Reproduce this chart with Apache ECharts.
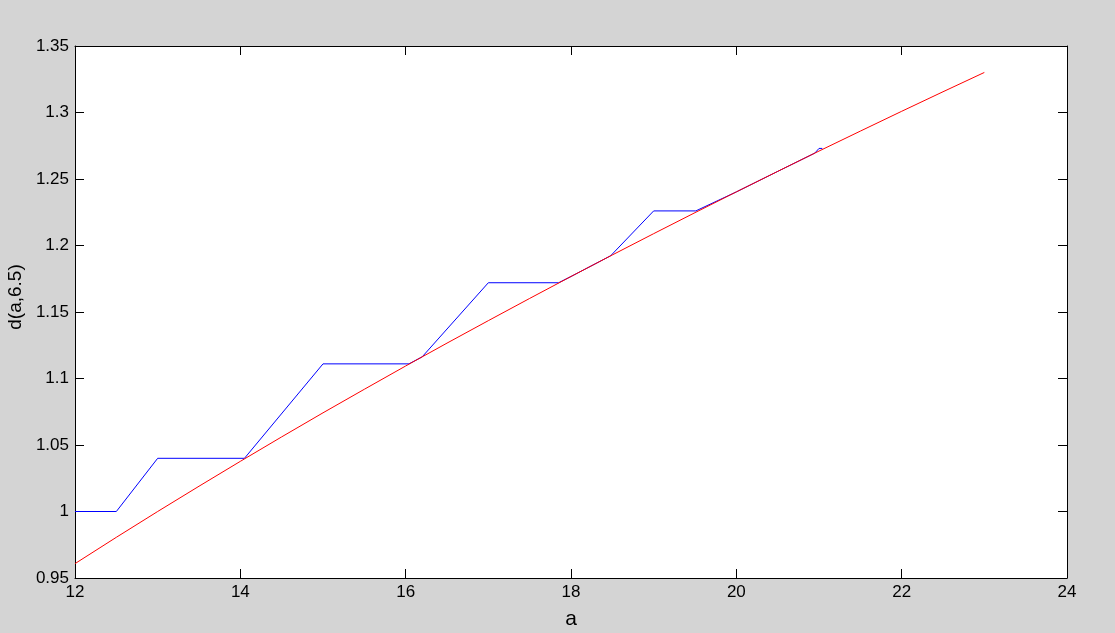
<!DOCTYPE html>
<html>
<head>
<meta charset="utf-8">
<script src="https://cdn.jsdelivr.net/npm/echarts@6/dist/echarts.min.js"></script>
<style>
html,body{margin:0;padding:0;background:#d4d4d4;}
#chart{width:1115px;height:633px;}
</style>
</head>
<body>
<div id="chart"></div>
<script>
// Blue stepped curve
var blueX = [12, 12.5, 13, 14.05, 15, 16.04, 16.2, 17, 17.85, 18, 18.48, 19, 19.51, 20.0, 20.5, 20.95, 21.0, 21.04];
var blueY = [1.0, 1.0, 1.04, 1.04, 1.111, 1.111, 1.1163, 1.172, 1.172, 1.1767, 1.1923, 1.226, 1.226, 1.2403, 1.2557, 1.2695, 1.273, 1.273];
// Red smooth curve
var redX = [12, 12.5, 13, 13.5, 14, 14.5, 15, 15.5, 16, 16.5, 17, 17.5, 18, 18.5, 19, 19.5, 20, 20.5, 21, 21.5, 22, 22.5, 23];
var redY = [0.9608, 0.9806, 1.0, 1.019, 1.0377, 1.0561, 1.0742, 1.0919, 1.1094, 1.1266, 1.1435, 1.1602, 1.1767, 1.1929, 1.2089, 1.2247, 1.2403, 1.2557, 1.271, 1.286, 1.3009, 1.3156, 1.3301];
// Axes
var xMin = 12, xMax = 24, xStep = 2;
var yMin = 0.95, yMax = 1.35, yStep = 0.05;
var xName = 'a';
var yName = 'd(a,6.5)';

function pairs(xs, ys){ return xs.map(function(x,i){ return [x, ys[i]]; }); }

var font = 'Liberation Sans, Arial, Helvetica, sans-serif';
var axisLine = {show:true, onZero:false, lineStyle:{color:'#000', width:1}};
var tickIn = {show:true, inside:true, length:9, lineStyle:{color:'#000', width:1}};

var chart = echarts.init(document.getElementById('chart'), null, {renderer:'canvas'});
chart.setOption({
  backgroundColor:'#d4d4d4',
  animation:false,
  grid:{left:75, top:46, right:48, bottom:55, show:true, backgroundColor:'#ffffff', borderWidth:0,
        containLabel:false, outerBoundsMode:'none'},
  xAxis:[
    {type:'value', position:'bottom', min:xMin, max:xMax, interval:xStep,
     axisLine:axisLine, axisTick:tickIn, splitLine:{show:false},
     axisLabel:{color:'#000', fontSize:17, fontFamily:font, margin:6},
     name:xName, nameLocation:'middle', nameGap:31,
     nameTextStyle:{color:'#000', fontSize:21, fontFamily:font}},
    {type:'value', position:'top', min:xMin, max:xMax, interval:xStep,
     axisLine:axisLine, axisTick:tickIn, splitLine:{show:false}, axisLabel:{show:false}}
  ],
  yAxis:[
    {type:'value', position:'left', min:yMin, max:yMax, interval:yStep,
     axisLine:axisLine, axisTick:tickIn, splitLine:{show:false},
     axisLabel:{color:'#000', fontSize:17, fontFamily:font, margin:6,
       formatter:function(v){ return String(+v.toFixed(2)); }},
     name:yName, nameLocation:'middle', nameGap:47, nameRotate:90,
     nameTextStyle:{color:'#000', fontSize:19, fontFamily:font, padding:[0,0,0,30]}},
    {type:'value', position:'right', min:yMin, max:yMax, interval:yStep,
     axisLine:axisLine, axisTick:tickIn, splitLine:{show:false}, axisLabel:{show:false}}
  ],
  series:[
    {type:'line', xAxisIndex:0, yAxisIndex:0, data:pairs(blueX, blueY), showSymbol:false,
     lineStyle:{color:'#0000ff', width:1}, itemStyle:{color:'#0000ff'}, z:2},
    {type:'line', xAxisIndex:0, yAxisIndex:0, data:pairs(redX, redY), showSymbol:false,
     lineStyle:{color:'#ff0000', width:1}, itemStyle:{color:'#ff0000'}, z:3}
  ]
});
</script>
</body>
</html>
